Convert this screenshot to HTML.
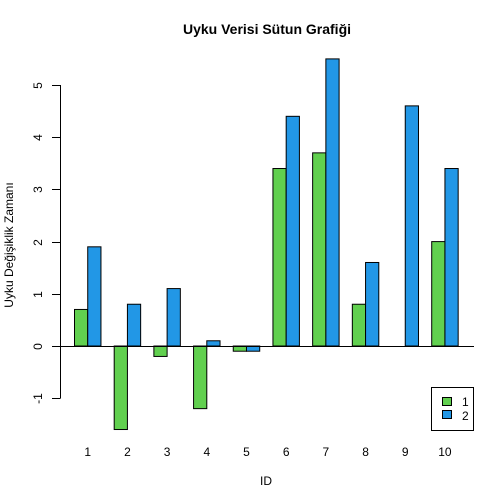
<!DOCTYPE html>
<html><head><meta charset="utf-8"><style>body{margin:0;background:#fff}svg{display:block}text{font-family:"Liberation Sans",sans-serif;fill:#000}</style></head>
<body>
<svg id="c" width="504" height="504">
<text x="267" y="34" text-anchor="middle" font-size="14" font-weight="bold">Uyku Verisi Sütun Grafiği</text>
<text x="266" y="485" text-anchor="middle" font-size="12">ID</text>
<text transform="translate(13,245) rotate(-90)" text-anchor="middle" font-size="12">Uyku Değişiklik Zamanı</text>
<g id="bars"></g><g id="axis"></g>
<g>
<rect x="431.5" y="387.5" width="42" height="43" fill="none" stroke="#000"/>
<rect x="442.5" y="397.5" width="9" height="8" fill="#61D04F" stroke="#000"/>
<text x="462" y="406" font-size="12">1</text>
<rect x="442.5" y="410.5" width="9" height="8" fill="#2297E6" stroke="#000"/>
<text x="462" y="420" font-size="12">2</text>
</g>
</svg>
<script>
const categories=["1","2","3","4","5","6","7","8","9","10"];
const group1=[0.7,-1.6,-0.2,-1.2,-0.1,3.4,3.7,0.8,0.0,2.0];
const group2=[1.9,0.8,1.1,0.1,-0.1,4.4,5.5,1.6,4.6,3.4];
const yTicks=[-1,0,1,2,3,4,5];
const colors=["#61D04F","#2297E6"];
const NS="http://www.w3.org/2000/svg";
const y=v=>346-v*52.2;
const bw=13.23;
const x=u=>74+(u-1)*bw;
const bars=document.getElementById('bars'),axis=document.getElementById('axis');
function mk(p,tag,a){const e=document.createElementNS(NS,tag);for(const k in a)e.setAttribute(k,a[k]);p.appendChild(e);return e;}
[group1,group2].forEach((g,s)=>g.forEach((v,i)=>{
 const u=1+3*i+s;const y0=Math.min(y(0),y(v)),h=Math.abs(y(v)-y(0));
 const r=mk(bars,'rect',{x:x(u)+0.5,y:y0,width:bw,height:h,fill:colors[s],stroke:'#000'});
 
 
}));
categories.forEach((c,i)=>{const t=mk(axis,'text',{x:x(2+3*i)+0.5,y:456,'text-anchor':'middle','font-size':12});t.textContent=c;
 
 });
const l=mk(axis,'line',{x1:60.5,x2:60.5,y1:y(yTicks[0]),y2:y(yTicks[yTicks.length-1]),stroke:'#000'});


const z=mk(axis,'line',{x1:60,x2:474,y1:Math.round(y(0))+0.5,y2:Math.round(y(0))+0.5,stroke:'#000'});


yTicks.forEach(v=>{const yy=Math.round(y(v))+0.5;mk(axis,'line',{x1:52,x2:60.5,y1:yy,y2:yy,stroke:'#000'});
 const t=mk(axis,'text',{transform:`translate(42,${yy}) rotate(-90)`,'text-anchor':'middle','font-size':12});t.textContent=v;
 
 });
</script>
</body></html>
